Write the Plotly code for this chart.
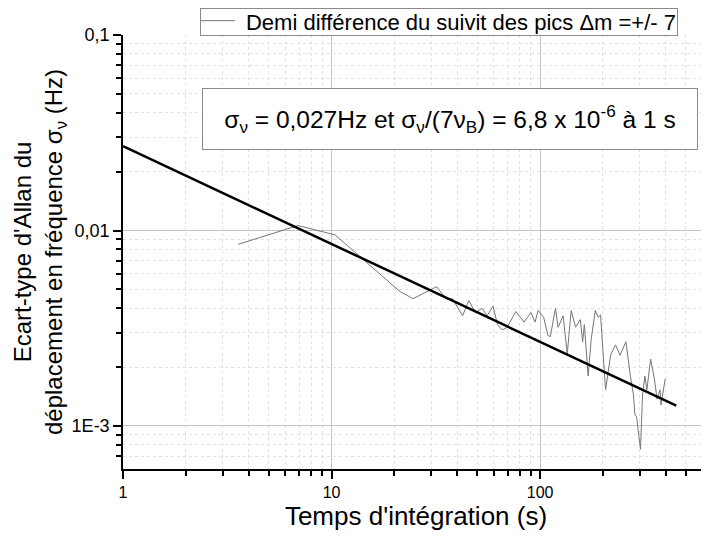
import plotly.graph_objects as go

# Allan deviation data (tau in s, sigma in Hz)
tau = [3.57, 6.9, 10.4, 14.2, 21.3, 24.6, 31.9, 35.6, 38, 42.5, 45.5, 49, 52.7, 55.7,
       59.5, 62.5, 65.8, 69.6, 76.5, 83.8, 90.4, 94.6, 97.9, 104, 109, 112, 118.5, 122,
       129, 135, 141, 148, 156, 160, 163, 170, 176, 184, 190, 195, 206, 218, 230, 242,
       258, 271, 280, 285, 290, 303, 310, 318, 325, 339, 354, 364, 376, 380, 398]
sigma = [0.0085, 0.0106, 0.0095, 0.0071, 0.00487, 0.00448, 0.00516, 0.00445, 0.00448,
         0.00366, 0.00438, 0.0038, 0.0040, 0.00366, 0.0041, 0.0033, 0.0031, 0.0032,
         0.00385, 0.0034, 0.0038, 0.0034, 0.0039, 0.0036, 0.0029, 0.00287, 0.0040,
         0.0032, 0.00366, 0.00234, 0.0039, 0.0032, 0.0035, 0.0027, 0.0033, 0.0018,
         0.0028, 0.0039, 0.0036, 0.0037, 0.00153, 0.00231, 0.0026, 0.0023, 0.0027,
         0.0018, 0.00146, 0.00114, 0.00112, 0.00076, 0.00144, 0.0018, 0.00153, 0.0022,
         0.00172, 0.00137, 0.00153, 0.00128, 0.00174]

# tau^-1/2 fit line endpoints
fit_tau = [1, 450]
fit_sigma = [0.027, 0.00127]

x_ticks = [1, 10, 100]
x_labels = ["1", "10", "100"]
y_ticks = [0.001, 0.01, 0.1]
y_labels = ["1E-3", "0,01", "0,1"]

x_minor = [m * 10 ** d for d in range(0, 3) for m in range(2, 10)]
y_minor = [m * 10 ** d for d in range(-4, -1) for m in range(2, 10)]

series_name = "Demi différence du suivit des pics \u0394m =+/- 7"

FONT = "Liberation Sans, Arial, sans-serif"
DATA_GREY = "#767676"

fig = go.Figure()

fig.add_trace(go.Scatter(x=tau, y=sigma, mode="lines",
                         line=dict(color=DATA_GREY, width=1),
                         name=series_name, showlegend=False))

fig.add_trace(go.Scatter(x=fit_tau, y=fit_sigma, mode="lines",
                         line=dict(color="black", width=2.5),
                         showlegend=False))

axis_common = dict(
    showline=True, linecolor="black", linewidth=1.5,
    ticks="outside", ticklen=8, tickwidth=1.5, tickcolor="black",
    showgrid=True, gridcolor="#c4c4c4", gridwidth=1,
    zeroline=False, mirror=False, automargin=False,
)

fig.update_xaxes(type="log", range=[0, 2.81],
                 tickmode="array", tickvals=x_ticks, ticktext=x_labels,
                 tickfont=dict(family=FONT, size=16, color="black"),
                 minor=dict(tickvals=x_minor, ticks="outside", ticklen=5,
                            tickcolor="black", tickwidth=1.5,
                            showgrid=True, gridcolor="#e2e2e2", griddash="dot"),
                 title=dict(text="Temps d'intégration (s)",
                            font=dict(family=FONT, size=26, color="black"),
                            standoff=6),
                 **axis_common)

fig.update_yaxes(type="log", range=[-3.22, -1],
                 tickmode="array", tickvals=y_ticks, ticktext=y_labels,
                 tickfont=dict(family=FONT, size=18, color="black"),
                 minor=dict(tickvals=y_minor, ticks="outside", ticklen=5,
                            tickcolor="black", tickwidth=1.5,
                            showgrid=True, gridcolor="#e2e2e2", griddash="dot"),
                 title=dict(text="Ecart-type d'Allan du<br>déplacement en fréquence \u03c3<sub>\u03bd</sub> (Hz)",
                            font=dict(family=FONT, size=24, color="black"),
                            standoff=2),
                 **axis_common)

# result box
fig.add_annotation(x=0.558, y=0.806, xref="paper", yref="paper",
                   xanchor="center", yanchor="middle",
                   text="\u03c3<sub>\u03bd</sub> = 0,027Hz et \u03c3<sub>\u03bd</sub>/(7\u03bd<sub>B</sub>) = 6,8 x 10<sup>-6</sup> à 1 s",
                   showarrow=False, font=dict(family=FONT, size=24.5, color="black"),
                   bordercolor="#8a8a8a", borderwidth=1, borderpad=10,
                   bgcolor="white", width=474, height=40)

# compact legend box drawn by hand (plotly's own legend is too tall)
fig.add_annotation(x=0.1314, y=1.0622, xref="paper", yref="paper",
                   xanchor="left", yanchor="top", align="right",
                   text=series_name, showarrow=False,
                   font=dict(family=FONT, size=22, color="black"),
                   bordercolor="#8a8a8a", borderwidth=1, borderpad=1,
                   bgcolor="rgba(0,0,0,0)", width=474, height=24)
fig.add_shape(type="line", xref="paper", yref="paper",
              x0=0.1314, x1=0.191, y0=1.033, y1=1.033,
              line=dict(color=DATA_GREY, width=1))

# the page body adds an 8 px offset, so the figure is sized and margined to compensate
fig.update_layout(
    width=701, height=529,
    margin=dict(l=115, r=0, t=27, b=68, autoexpand=False),
    paper_bgcolor="white", plot_bgcolor="white",
    font=dict(family=FONT, color="black"),
    showlegend=False,
)

fig.write_html("out.html")
